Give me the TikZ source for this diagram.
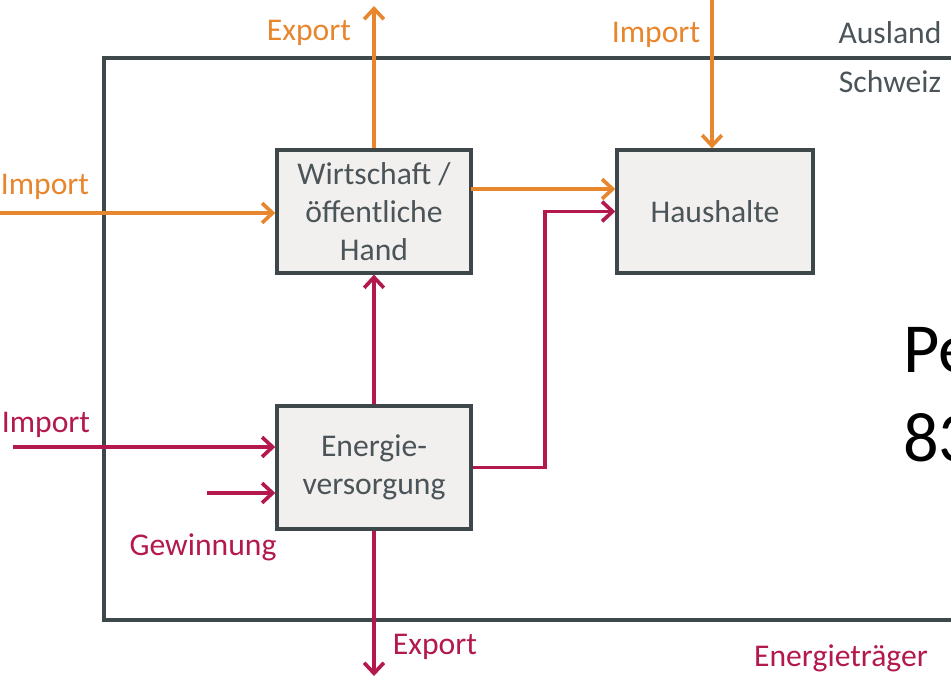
\documentclass[tikz,border=0pt]{standalone}
\usepackage{fontspec}
\setmainfont{Carlito}
\usepackage{tikz}
\usetikzlibrary{arrows.meta,calc}
\definecolor{flowor}{HTML}{E8862E}
\definecolor{flowred}{HTML}{B3194D}
\definecolor{framegray}{HTML}{3E484A}
\definecolor{boxfill}{HTML}{F2F0EE}
\definecolor{textgray}{HTML}{4B5458}

\begin{document}
\begin{tikzpicture}[x=0.025cm,y=-0.025cm,
  font=\fontsize{22.5}{27}\selectfont,
  box/.style={draw=framegray,line width=2.4pt,fill=boxfill,text=textgray,align=center,
    minimum width=4.85cm,minimum height=3.07cm,inner sep=0pt},
  orflow/.style={draw=flowor,line width=2.6pt,-{Straight Barb[length=7.5pt,width=14pt,line width=2.6pt]}},
  redflow/.style={draw=flowred,line width=2.6pt,-{Straight Barb[length=7.5pt,width=14pt,line width=2.6pt]}},
  orlbl/.style={text=flowor,inner sep=0pt},
  redlbl/.style={text=flowred,inner sep=0pt},
  zone/.style={text=textgray,inner sep=0pt}]
\useasboundingbox (0,0) rectangle (951,677);
\clip (0,0) rectangle (951,677);
\draw[framegray,line width=2.6pt] (960,58) -- (104,58) -- (104,620) -- (960,620);
\node[box] (wirt) at (374,211.5) {Wirtschaft /\\öffentliche\\Hand};
\node[box,minimum width=4.9cm] (haus) at (715,211.5) {Haushalte};
\node[box] (energ) at (374,467.5) {Energie-\\versorgung};
\coordinate (exptop) at (374,6);
\coordinate (imptop) at (712,0);
\coordinate (impwest) at (0,213);
\coordinate (w2h) at (471,189);
\coordinate (impred) at (13,447);
\coordinate (gewin) at (207,493);
\coordinate (expbot) at (374,676);
\coordinate (bend) at (545,211.5);
\draw[orflow] (wirt.north) -- (exptop);
\draw[orflow] (imptop) -- (imptop |- haus.north);
\draw[orflow] (impwest) -- (impwest -| wirt.west);
\draw[orflow] (w2h) -- (w2h -| haus.west);
\draw[redflow] (energ.north) -- (wirt.south);
\draw[redflow] (energ.east) -| (bend) -- (haus.west);
\draw[redflow] (impred) -- (impred -| energ.west);
\draw[redflow] (gewin) -- (gewin -| energ.west);
\draw[redflow] (energ.south) -- (expbot);
\node[orlbl] (lexptop) at (309,33) {Export};
\node[orlbl] (limptop) at (656,35) {Import};
\node[orlbl] (limpwest) at (45,187) {Import};
\node[redlbl] (limpred) at (46,425) {Import};
\node[redlbl] (lgewin) at (203,547) {Gewinnung};
\node[redlbl] (lexpbot) at (435,647) {Export};
\node[redlbl] (ltraeger) at (841,658) {Energieträger};
\node[zone] (lausland) at (890,33) {Ausland};
\node[zone] (lschweiz) at (890,82) {Schweiz};
\node[anchor=west,inner sep=0pt,font=\fontsize{50}{60}\selectfont] (lpe) at (903,350) {Pe};
\node[anchor=west,inner sep=0pt,font=\fontsize{50}{60}\selectfont] (lzahl) at (903,438) {83};
\end{tikzpicture}
\end{document}
